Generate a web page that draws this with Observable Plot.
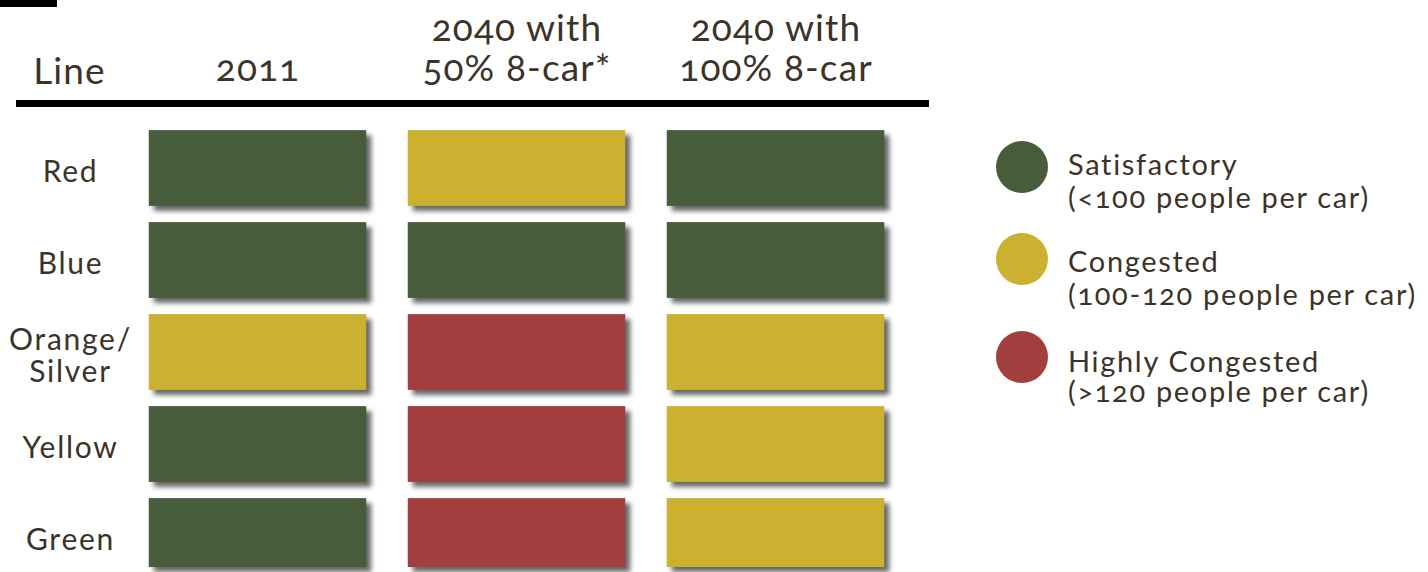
<!DOCTYPE html>
<html><head><meta charset="utf-8">
<script src="https://cdn.jsdelivr.net/npm/d3@7"></script>
<script src="https://cdn.jsdelivr.net/npm/@observablehq/plot@0.6"></script>
<style>
html,body{margin:0;padding:0;background:#fff;}
#wrap{position:relative;width:1428px;height:572px;overflow:hidden;font-family:Lato,sans-serif;color:#3b3327;}
#wrap svg{position:absolute;left:0;top:0;}
#wrap svg text{font-variant-numeric:oldstyle-nums;font-feature-settings:"onum" 1;letter-spacing:0.058em;}
.deco{position:absolute;background:#000;}
</style></head><body>
<div id="wrap"></div>
<script>
const lines = ["Red","Blue","Orange/\nSilver","Yellow","Green"];
const scenarios = ["2011","2040 with\n50% 8-car*","2040 with\n100% 8-car"];
const status2011 = ["Satisfactory","Satisfactory","Congested","Satisfactory","Satisfactory"];
const status2040half = ["Congested","Satisfactory","Highly Congested","Highly Congested","Highly Congested"];
const status2040full = ["Satisfactory","Satisfactory","Congested","Congested","Congested"];
const statusNames = ["Satisfactory","Congested","Highly Congested"];
const statusNotes = ["(<100 people per car)","(100-120 people per car)","(>120 people per car)"];
const statusColors = ["#465c3a","#ccb030","#a33e3e"];
const headerLabel = "Line";
const textColor = "#3b3327";

const table = [];
[status2011,status2040half,status2040full].forEach((arr,j)=>arr.forEach((s,i)=>table.push({line:lines[i],scenario:scenarios[j],status:s})));
const lastLine = lines[lines.length-1];

const wrap = document.getElementById("wrap");

const cellOpts = {x:"scenario", y:"line", fill:"status", insetLeft:20.75, insetRight:20.75, insetTop:8.1};
const chart = Plot.plot({
  width:1428, height:572,
  marginTop:0, marginRight:0, marginBottom:0, marginLeft:0,
  style:{fontFamily:"Lato, sans-serif", color:textColor, background:"transparent"},
  x:{type:"band", domain:scenarios, range:[127.25,905.75], padding:0, axis:null},
  y:{type:"band", domain:lines, range:[120.9,582.1], padding:0, axis:null},
  color:{domain:statusNames, range:statusColors},
  marks:[
    Plot.cell(table.filter(d=>d.line!==lastLine),{...cellOpts, insetBottom:8.1}),
    Plot.cell(table.filter(d=>d.line===lastLine),{...cellOpts, insetBottom:15}),
    Plot.text(lines,{y:d=>d, frameAnchor:"left", dx:70, dy:3, textAnchor:"middle", fontSize:30, lineHeight:1.07, fill:textColor}),
    Plot.text(scenarios,{x:d=>d, frameAnchor:"top", lineAnchor:"bottom", dy:80, fontSize:37, lineHeight:1.08, fill:textColor}),
    Plot.text([headerLabel],{frameAnchor:"top-left", dx:69, dy:83, textAnchor:"middle", lineAnchor:"bottom", fontSize:37, fill:textColor})
  ]
});
chart.querySelectorAll('g[aria-label="cell"]').forEach(g=>g.style.filter = "drop-shadow(5px 5px 2.5px rgba(0,0,0,0.6))");
const textGs = chart.querySelectorAll('g[aria-label="text"]');
if (textGs[1]) textGs[1].querySelectorAll("text").forEach(t=>t.style.letterSpacing="0.03em");
if (textGs[2]) textGs[2].querySelectorAll("text").forEach(t=>t.style.letterSpacing="0.03em");
wrap.appendChild(chart);

// decorations
const bar = document.createElement("div");
bar.className = "deco"; Object.assign(bar.style,{left:"0px",top:"0px",width:"57px",height:"7px"});
wrap.appendChild(bar);
const rule = document.createElement("div");
rule.className = "deco"; Object.assign(rule.style,{left:"16px",top:"100px",width:"913px",height:"7px"});
wrap.appendChild(rule);

// legend
const leg = d3.select(wrap).append("svg").attr("width",1428).attr("height",572)
  .style("font-family","Lato, sans-serif");
const legY = [167, 259, 357];
const legBase1 = [175, 272, 372];
const legBase2 = [208, 305, 402];
statusNames.forEach((s,i)=>{
  leg.append("circle").attr("cx",1022).attr("cy",legY[i]).attr("r",26).attr("fill",statusColors[i]);
  leg.append("text").attr("x",1068).attr("y",legBase1[i]).attr("font-size",29).attr("fill",textColor).text(s);
  leg.append("text").attr("x",1068).attr("y",legBase2[i]).attr("font-size",29).attr("fill",textColor).text(statusNotes[i]);
});
</script>
</body></html>
